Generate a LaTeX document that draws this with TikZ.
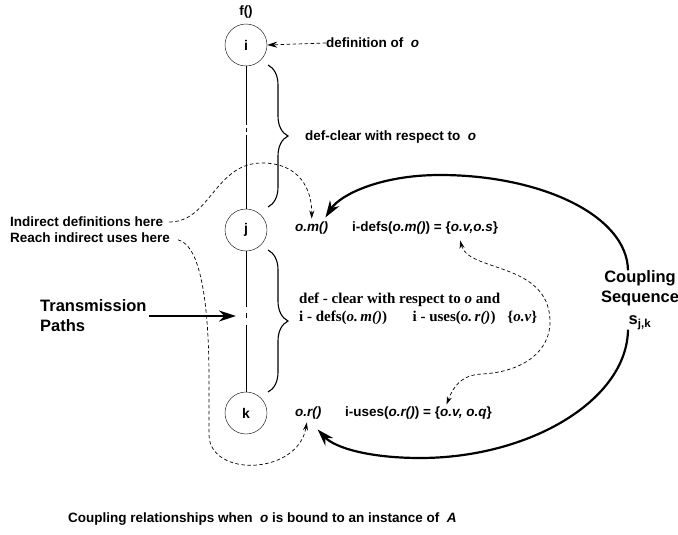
\documentclass[tikz,border=0pt]{standalone}
\usepackage{fontspec}
\setmainfont{Liberation Sans}
\newfontfamily\timesfont{Liberation Serif}
\usetikzlibrary{arrows.meta,calc,decorations.pathreplacing}

\begin{document}
\begin{tikzpicture}[x=1pt,y=-1pt,>={Stealth[length=8pt,width=5pt]},
  txt/.style={anchor=west,inner sep=0pt,font=\bfseries\fontsize{13.5}{16}\selectfont},
  big/.style={inner sep=0pt,align=#1,font=\bfseries\fontsize{16.5}{20}\selectfont},big/.default=center,
  vtx/.style={draw,circle,minimum size=42pt,inner sep=0pt,fill=white,font=\bfseries\fontsize{14}{16}\selectfont},
  dep/.style={dash pattern=on 3.5pt off 2.5pt,line width=0.7pt},
  coup/.style={line width=2.2pt,-{Stealth[length=17pt,width=11pt]}},
  brc/.style={decorate,decoration={brace,amplitude=20pt},line width=1.1pt}]
  \useasboundingbox (0,0) rectangle (678,535);
  \node[txt,anchor=center] (f) at (246,12) {f()};
  \foreach \n/\y in {i/45,j/230,k/413} \node[vtx] (\n) at (246,\y) {\n};
  \draw[line width=0.8pt,dash pattern=on 59pt off 3pt on 4pt off 3pt on 200pt] (i) -- (j);
  \draw[line width=0.8pt,dash pattern=on 56pt off 6pt on 5pt off 7pt on 200pt] (j) -- (k);
  \draw[brc] (268,65) -- (268,207);
  \draw[brc] (268,250) -- (268,392);
  \node[txt] (idef) at (326,43) {definition of\ \ \textit{o}};
  \draw[dep,-{Stealth[length=10pt,width=6pt]}] (idef.west) -- (i.east);
  \node[txt] (dc1) at (305,137) {def-clear with respect to\ \ \textit{o}};
  \node[txt] (om) at (295,228) {\textit{o.m()}};
  \node[txt] (idefs) at (352,228) {i-defs(\textit{o.m()}) = \{\textit{o.v,o.s}\}};
  \node[txt,align=left,font=\timesfont\bfseries\fontsize{15}{18}\selectfont] (dc2) at (299,309)
    {def - clear with respect to \textit{o} and\\
     i - defs(\textit{o.\,m()})\hspace{1.7em}i - uses(\textit{o.\,r()})\hspace{0.8em}\{\textit{o.v}\}};
  \node[txt] (or) at (295,413) {\textit{o.r()}};
  \node[txt] (iuses) at (345,413) {i-uses(\textit{o.r()}) = \{\textit{o.v, o.q}\}};
  \node[txt] (ind) at (10,222) {Indirect definitions here};
  \node[txt] (reach) at (10,238) {Reach indirect uses here};
  \node[big=left,anchor=west] (tp) at (40,316) {Transmission\\Paths};
  \node[big] (cs) at (640,300) {Coupling\\Sequence\\[2pt]s\textsubscript{j,k}};
  \node[txt] (cap) at (68,519) {Coupling relationships when\ \ \textit{o} is bound to an instance of\ \ \textit{A}};
  \coordinate (tpend) at (236,316);
  \draw[line width=2pt,-{Stealth[length=17pt,width=11pt]}] ([xshift=2pt]tp.east) -- (tpend);
  \draw[dep,->,shorten <=6pt,shorten >=3pt] (ind.east) .. controls (210,222) and (215,163) .. (262,163)
    .. controls (300,163) and (312,190) .. (om.north);
  \draw[dep,->,shorten <=8pt,shorten >=3pt] (reach.east) .. controls (200,245) and (209,300) .. (209,380)
    -- (209,435) .. controls (210,478) and (298,475) .. ([xshift=-1pt]or.south);
  \draw[dep,<->] ([xshift=35pt,yshift=-6pt]idefs.south) .. controls (468,272) and (548,262) .. (550,320)
    .. controls (551,352) and (522,372) .. (482,374) .. controls (462,375) and (454,385) .. ([xshift=28pt,yshift=2pt]iuses.north);
  \draw[coup] ([xshift=-12pt]cs.north) .. controls (627,215) and (540,175) .. (440,175)
    .. controls (380,175) and (340,195) .. ([xshift=-3pt,yshift=4pt]om.north east);
  \draw[coup] ([xshift=-12pt]cs.south) .. controls (627,400) and (530,458) .. (420,458)
    .. controls (370,458) and (335,448) .. ([xshift=-4pt,yshift=-10pt]or.south east);
\end{tikzpicture}
\end{document}
